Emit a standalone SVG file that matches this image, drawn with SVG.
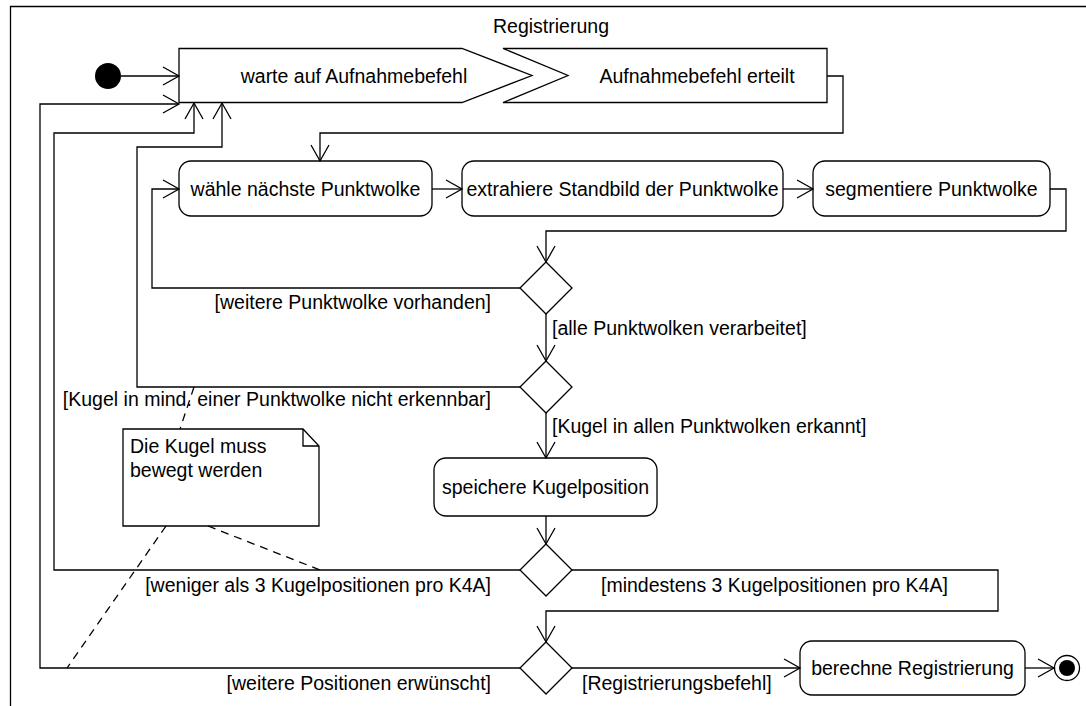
<svg xmlns="http://www.w3.org/2000/svg" width="1086" height="706" viewBox="0 0 1086 706">
<style>
text{font-family:"Liberation Sans",Arial,sans-serif;font-size:19.5px;fill:#000}
.c{text-anchor:middle}
.e{text-anchor:end}
.n{fill:#fff;stroke:#000;stroke-width:1.3}
.l{fill:none;stroke:#000;stroke-width:1.3}
.d{fill:none;stroke:#000;stroke-width:1.3;stroke-dasharray:8 6}
</style>
<defs>
<marker id="a" markerWidth="20" markerHeight="22" refX="17" refY="10" orient="auto" markerUnits="userSpaceOnUse">
<path d="M1,1 L17,10 L1,19" fill="none" stroke="#000" stroke-width="1.3"/>
</marker>
</defs>
<g id="frame">
<path class="l" d="M10.5,706 V6.5 H1086"/>
<text class="c" x="551" y="33">Registrierung</text>
</g>
<g id="start"><circle cx="108" cy="76" r="13" fill="#000"/></g>
<g id="warte">
<polygon class="n" points="179,48.5 462,48.5 532,75.5 462,102.5 179,102.5"/>
<text class="c" x="354" y="83">warte auf Aufnahmebefehl</text>
</g>
<g id="erteilt">
<polygon class="n" points="503,48.5 827,48.5 827,102.5 503,102.5 568,75.5"/>
<text class="c" x="697" y="83">Aufnahmebefehl erteilt</text>
</g>
<g id="waehle">
<rect class="n" x="179" y="161" width="253" height="55" rx="12"/>
<text class="c" x="305.5" y="196">wähle nächste Punktwolke</text>
</g>
<g id="extrahiere">
<rect class="n" x="462" y="161" width="321" height="55" rx="12"/>
<text class="c" x="622.5" y="196">extrahiere Standbild der Punktwolke</text>
</g>
<g id="segmentiere">
<rect class="n" x="813" y="161" width="237" height="55" rx="12"/>
<text class="c" x="931.5" y="196">segmentiere Punktwolke</text>
</g>
<g id="d1"><polygon class="n" points="546,262 572,288 546,314 520,288"/></g>
<g id="d2"><polygon class="n" points="546,361 572,387 546,413 520,387"/></g>
<g id="speichere">
<rect class="n" x="434" y="458" width="223" height="58" rx="12"/>
<text class="c" x="545.5" y="494">speichere Kugelposition</text>
</g>
<g id="d3"><polygon class="n" points="546,544 572,570 546,596 520,570"/></g>
<g id="d4"><polygon class="n" points="546,642 572,668 546,694 520,668"/></g>
<g id="berechne">
<rect class="n" x="800" y="641" width="225" height="54" rx="12"/>
<text class="c" x="912.5" y="675">berechne Registrierung</text>
</g>
<g id="end">
<circle cx="1067" cy="668" r="12.5" fill="#fff" stroke="#000" stroke-width="1.3"/>
<circle cx="1067" cy="668" r="8" fill="#000"/>
</g>
<g id="note">
<path class="n" d="M123,429 H303 L319,446 V526 H123 Z"/>
<path class="l" d="M303,429 V446 H319"/>
<text x="130" y="453">Die Kugel muss</text>
<text x="130" y="477">bewegt werden</text>
</g>
<g id="connectors">
<path class="l" d="M121,76 H179" marker-end="url(#a)"/>
<path class="l" d="M827,76 H843 V133 H320 V161" marker-end="url(#a)"/>
<path class="l" d="M432,189 H462" marker-end="url(#a)"/>
<path class="l" d="M783,189 H813" marker-end="url(#a)"/>
<path class="l" d="M1050,189 H1066 V231 H546 V262" marker-end="url(#a)"/>
<path class="l" d="M520,288 H152 V189 H179" marker-end="url(#a)"/>
<path class="l" d="M546,314 V361" marker-end="url(#a)"/>
<path class="l" d="M520,387 H137 V147 H222 V103" marker-end="url(#a)"/>
<path class="l" d="M546,413 V458" marker-end="url(#a)"/>
<path class="l" d="M546,516 V544" marker-end="url(#a)"/>
<path class="l" d="M520,570 H54 V133 H194 V103" marker-end="url(#a)"/>
<path class="l" d="M572,570 H998 V611 H546 V642" marker-end="url(#a)"/>
<path class="l" d="M520,668 H40 V104 H179" marker-end="url(#a)"/>
<path class="l" d="M572,668 H800" marker-end="url(#a)"/>
<path class="l" d="M1025,668 H1054" marker-end="url(#a)"/>
<path class="d" d="M194,387 L180,429"/>
<path class="d" d="M166,526 L67,668"/>
<path class="d" d="M208,526 L320,570"/>
<text class="e" x="491" y="309">[weitere Punktwolke vorhanden]</text>
<text x="552" y="335">[alle Punktwolken verarbeitet]</text>
<text class="e" x="491" y="406">[Kugel in mind. einer Punktwolke nicht erkennbar]</text>
<text x="552" y="433">[Kugel in allen Punktwolken erkannt]</text>
<text class="e" x="491" y="592">[weniger als 3 Kugelpositionen pro K4A]</text>
<text x="601" y="592">[mindestens 3 Kugelpositionen pro K4A]</text>
<text class="e" x="491" y="690">[weitere Positionen erwünscht]</text>
<text x="582" y="690">[Registrierungsbefehl]</text>
</g>
</svg>
